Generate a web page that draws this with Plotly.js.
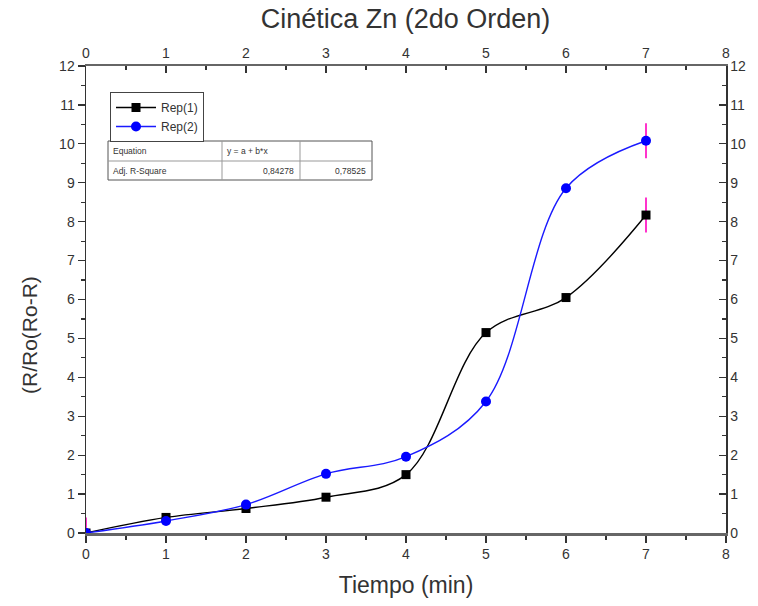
<!DOCTYPE html>
<html>
<head>
<meta charset="utf-8">
<script src="https://cdn.plot.ly/plotly-3.0.1.min.js"></script>
<style>html,body{margin:0;padding:0;background:#fff}#chart{width:758px;height:606px}</style>
</head>
<body>
<div id="chart"></div>
<script>
// ---- data ----
const tiempo = [0, 1, 2, 3, 4, 5, 6, 7];
const rep1 = [0, 0.40, 0.63, 0.92, 1.50, 5.15, 6.05, 8.17];
const rep2 = [0, 0.31, 0.73, 1.52, 1.96, 3.38, 8.86, 10.08];
const rep1Err = [0.4, 0, 0, 0, 0, 0, 0, 0.45];
const rep2Err = [0, 0, 0, 0, 0, 0, 0, 0.45];
const seriesNames = ['Rep(1)', 'Rep(2)'];
const xTicks = [0, 1, 2, 3, 4, 5, 6, 7, 8];
const yTicks = [0, 1, 2, 3, 4, 5, 6, 7, 8, 9, 10, 11, 12];
const tableRows = [
  ['Equation', 'y = a + b*x', ''],
  ['Adj. R-Square', '0,84278', '0,78525']
];

// ---- layout helpers ----
const W = 758, H = 606;
const M = {l: 86, r: 32, t: 66, b: 73};
const PW = W - M.l - M.r, PH = H - M.t - M.b;
const px = v => (v - M.l) / PW;      // pixel x -> paper
const py = v => (H - M.b - v) / PH;  // pixel y -> paper

const font = 'Liberation Sans, Arial, sans-serif';

const traces = [
  {
    x: tiempo, y: rep1, name: seriesNames[0], type: 'scatter', mode: 'lines+markers',
    line: {color: '#000000', width: 1.4, shape: 'spline', smoothing: 1},
    marker: {symbol: 'square', size: 9, color: '#000000'},
    error_y: {type: 'data', array: rep1Err, visible: true, color: '#ff33cc', thickness: 2, width: 0}
  },
  {
    x: tiempo, y: rep2, name: seriesNames[1], type: 'scatter', mode: 'lines+markers',
    line: {color: '#1a1aff', width: 1.4, shape: 'spline', smoothing: 1},
    marker: {symbol: 'circle', size: 10, color: '#0000ff'},
    error_y: {type: 'data', array: rep2Err, visible: true, color: '#ff33cc', thickness: 2, width: 0}
  },
  // invisible trace for the top/right axes
  {x: [0, 8], y: [0, 12], xaxis: 'x2', yaxis: 'y2', mode: 'markers',
   marker: {opacity: 0}, showlegend: false, hoverinfo: 'skip'}
];

// table shapes & annotations
const tX = [108, 222, 300, 372];
const tY = [141, 161, 180];
const shapes = [];
const annotations = [];
shapes.push({type: 'rect', xref: 'paper', yref: 'paper', x0: px(tX[0]), x1: px(tX[3]), y0: py(tY[0]), y1: py(tY[2]),
  line: {color: '#555', width: 1}, fillcolor: 'rgba(255,255,255,1)', layer: 'above'});
shapes.push({type: 'line', xref: 'paper', yref: 'paper', x0: px(tX[0]), x1: px(tX[3]), y0: py(tY[1]), y1: py(tY[1]), line: {color: '#999', width: 1}});
[tX[1], tX[2]].forEach(xx => shapes.push({type: 'line', xref: 'paper', yref: 'paper', x0: px(xx), x1: px(xx), y0: py(tY[0]), y1: py(tY[2]), line: {color: '#999', width: 1}}));
tableRows.forEach((row, r) => {
  row.forEach((txt, c) => {
    if (!txt) return;
    const right = (r === 1 && c > 0);
    annotations.push({
      xref: 'paper', yref: 'paper', showarrow: false, text: txt,
      x: right ? px(tX[c + 1] - 4) : px(tX[c] + 3),
      xanchor: right ? 'right' : 'left',
      y: py((tY[r] + tY[r + 1]) / 2), yanchor: 'middle',
      font: {family: font, size: 8.5, color: '#333'}
    });
  });
});
// y-axis title (placed like the reference, slightly below centre)
annotations.push({
  xref: 'paper', yref: 'paper', showarrow: false, text: '(R/Ro(Ro-R)', textangle: -90,
  x: px(29), y: py(335), xanchor: 'center', yanchor: 'middle',
  font: {family: font, size: 21, color: '#333'}
});

const baseAxis = {
  showgrid: false, zeroline: false, showline: true, linecolor: '#333', linewidth: 1.5,
  tickfont: {family: font, size: 14, color: '#333'}, tickcolor: '#333', ticklen: 7, tickwidth: 1.2,
  fixedrange: true
};

const layout = {
  width: W, height: H,
  margin: M,
  paper_bgcolor: '#ffffff', plot_bgcolor: '#ffffff',
  title: {text: 'Cinética Zn (2do Orden)', x: 0.535, xanchor: 'center', y: 0.97, yanchor: 'middle',
          font: {family: font, size: 27, color: '#333'}},
  showlegend: true,
  legend: {x: px(110), y: py(92), xanchor: 'left', yanchor: 'top', bgcolor: '#fff',
           bordercolor: '#444', borderwidth: 1, font: {family: font, size: 12, color: '#333'},
           tracegroupgap: 0, itemwidth: 40},
  xaxis: Object.assign({}, baseAxis, {
    range: [0, 8], tickvals: xTicks, ticks: 'outside', linecolor: '#666', linewidth: 2.5,
    minor: {dtick: 0.5, ticks: 'outside', ticklen: 4, tickcolor: '#333'},
    title: {text: 'Tiempo (min)', font: {family: font, size: 23, color: '#333'}, standoff: 16}
  }),
  yaxis: Object.assign({}, baseAxis, {
    range: [0, 12], tickvals: yTicks, ticks: 'outside',
    minor: {dtick: 0.5, ticks: 'outside', ticklen: 4, tickcolor: '#333'}
  }),
  xaxis2: Object.assign({}, baseAxis, {
    range: [0, 8], tickvals: xTicks, ticks: 'inside', side: 'top', overlaying: 'x', anchor: 'y2',
    linecolor: '#666', linewidth: 2.5,
    minor: {dtick: 0.5, ticks: 'inside', ticklen: 4, tickcolor: '#333'}
  }),
  yaxis2: Object.assign({}, baseAxis, {
    range: [0, 12], tickvals: yTicks, ticks: 'inside', side: 'right', overlaying: 'y', anchor: 'x2',
    minor: {dtick: 0.5, ticks: 'inside', ticklen: 4, tickcolor: '#333'}
  }),
  shapes: shapes,
  annotations: annotations
};

Plotly.newPlot('chart', traces, layout, {staticPlot: true, displayModeBar: false});
</script>
</body>
</html>
